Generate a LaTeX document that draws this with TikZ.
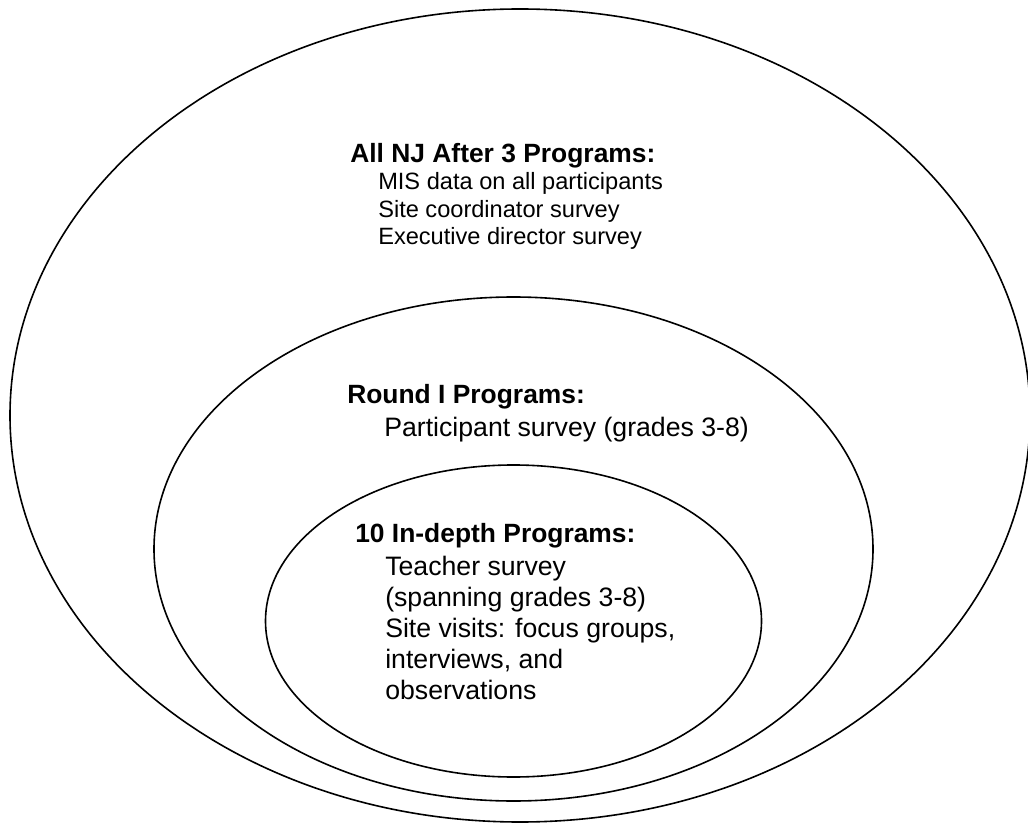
\documentclass[tikz,border=0pt]{standalone}
\usepackage{fontspec}
\setmainfont{Liberation Sans}
\usetikzlibrary{positioning}

\tikzset{
  ring/.style={draw=black,line width=1.2pt},
  head/.style={anchor=base west,inner sep=0pt,font=\fontsize{19.8}{23}\selectfont\bfseries},
  body/.style 2 args={anchor=base west,inner sep=0pt,align=left,font=\fontsize{#1}{#2}\selectfont},
}

\begin{document}
\begin{tikzpicture}[x=0.75pt,y=-0.75pt]
\useasboundingbox (0,0) rectangle (1028,823);
% the three nested sets
\draw[ring] (520,415.5) ellipse [x radius=510, y radius=406.5];
\draw[ring] (513.5,549) ellipse [x radius=359.5, y radius=252];
\draw[ring] (513.5,621) ellipse [x radius=248, y radius=156];
% outer (body placed by its last baseline)
\node[head] (allHead) at (350,163) {All NJ After 3 Programs:};
\node[body={17.7pt}{20.6pt}] (allBody) at (378,244.5) {MIS data on all participants\\Site coordinator survey\\Executive director survey};
% middle
\node[head] (roundHead) at (347,403) {Round I Programs:};
\node[body={20pt}{23.25pt}] (roundBody) at (384,436) {Participant survey (grades 3-8)};
% inner
\node[head] (depthHead) at (355,542) {10 In-depth Programs:};
\node[body={20pt}{23.25pt}] (depthBody) at (385,699) {Teacher survey\\(spanning grades 3-8)\\Site visits: focus groups,\\interviews, and\\observations};
\end{tikzpicture}
\end{document}
